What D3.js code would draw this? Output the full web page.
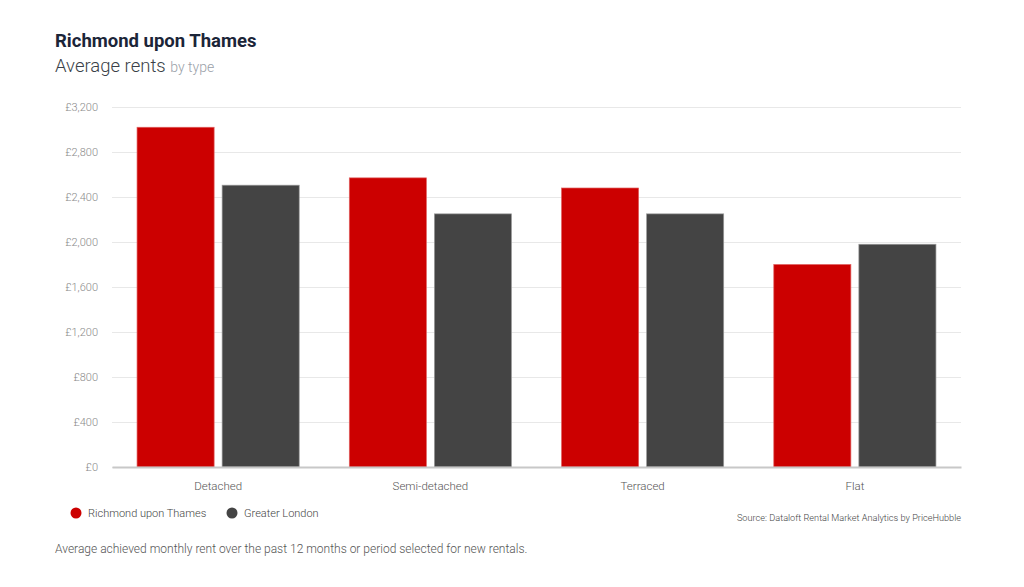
<!DOCTYPE html>
<html lang="en">
<head>
<meta charset="UTF-8">
<title>Richmond upon Thames - Average rents</title>
<script src="https://d3js.org/d3.v7.min.js"></script>
<style>
  body { margin: 0; background: #fff; font-family: Roboto, "Open Sans", sans-serif; }
  svg { display: block; }
</style>
</head>
<body>
<svg id="chart" width="1024" height="587"></svg>
<script>
var categories = ["Detached", "Semi-detached", "Terraced", "Flat"];
var seriesNames = ["Richmond upon Thames", "Greater London"];
var richmond = [3020, 2570, 2480, 1800];
var london = [2505, 2250, 2250, 1980];
var yTicks = [0, 400, 800, 1200, 1600, 2000, 2400, 2800, 3200];
var colours = ["#cc0000", "#444444"];

var svg = d3.select("#chart");
// plot area bounds (avoid window.top)
var plotLeft = 112, plotRight = 961, plotTop = 107, plotBottom = 467;

var x0 = d3.scaleBand().domain(categories).range([plotLeft, plotRight])
    .paddingInner(0.236).paddingOuter(0.118);
var x1 = d3.scaleBand().domain(seriesNames).range([0, x0.bandwidth()])
    .paddingInner(0.094);
var y = d3.scaleLinear().domain([0, 3200]).range([plotBottom, plotTop]);

// title
svg.append("text").attr("x", 55).attr("y", 47)
    .attr("font-size", 18.5).attr("font-weight", 700).attr("fill", "#1b2538")
    .text("Richmond upon Thames");
var sub = svg.append("text").attr("x", 55).attr("y", 72)
    .attr("font-size", 18.5).attr("font-weight", 300).attr("fill", "#3a3f48");
sub.append("tspan").text("Average rents ");
sub.append("tspan").attr("font-size", 14).attr("fill", "#9aa0a8").text("by type");

// grid + y axis
var yAxis = d3.axisLeft(y).tickValues(yTicks)
    .tickSize(-(plotRight - plotLeft)).tickPadding(14)
    .tickFormat(function(d){ return "£" + d3.format(",")(d); });
var gy = svg.append("g").attr("transform", "translate(" + plotLeft + ",0)").call(yAxis);
gy.select(".domain").remove();
gy.selectAll(".tick line").attr("stroke", "#e8e8e8");
gy.selectAll(".tick text").attr("fill", "#8a8a8a").attr("font-size", 11)
    .attr("font-family", "Roboto").attr("font-weight", 300);

// bars
var groups = svg.append("g").selectAll("g").data(categories).join("g")
    .attr("transform", function(d){ return "translate(" + x0(d) + ",0)"; });
groups.selectAll("rect")
    .data(function(d, i){ return [
        {s: seriesNames[0], v: richmond[i], c: colours[0], e: "#e06060"},
        {s: seriesNames[1], v: london[i], c: colours[1], e: "#999999"}]; })
    .join("rect")
    .attr("x", function(d){ return x1(d.s); })
    .attr("y", function(d){ return y(d.v); })
    .attr("width", x1.bandwidth())
    .attr("height", function(d){ return y(0) - y(d.v); })
    .attr("fill", function(d){ return d.c; })
    .attr("stroke", function(d){ return d.e; })
    .attr("stroke-width", 0.7);

// x axis
var xAxis = d3.axisBottom(x0).tickSize(0).tickPadding(15);
var gx = svg.append("g").attr("transform", "translate(0," + plotBottom + ")").call(xAxis);
gx.select(".domain").attr("stroke", "#c8c8c8").attr("stroke-width", 2);
gx.selectAll(".tick text").attr("fill", "#555").attr("font-size", 11.5)
    .attr("font-family", "Roboto").attr("font-weight", 300);

// legend
var legendX = [76, 232];
var lg = svg.append("g").selectAll("g").data(seriesNames).join("g")
    .attr("transform", function(d, i){ return "translate(" + legendX[i] + ",513)"; });
lg.append("circle").attr("r", 5.5).attr("fill", function(d, i){ return colours[i]; });
lg.append("text").attr("x", 12).attr("y", 4).attr("font-size", 11)
    .attr("fill", "#444").attr("font-weight", 300).text(function(d){ return d; });

// source
svg.append("text").attr("x", plotRight).attr("y", 521).attr("text-anchor", "end")
    .attr("font-size", 9.2).attr("fill", "#444").attr("font-weight", 300)
    .text("Source: Dataloft Rental Market Analytics by PriceHubble");

// footnote
svg.append("text").attr("x", 55).attr("y", 553).attr("font-size", 12)
    .attr("fill", "#555").attr("font-weight", 300)
    .text("Average achieved monthly rent over the past 12 months or period selected for new rentals.");
</script>
</body>
</html>
